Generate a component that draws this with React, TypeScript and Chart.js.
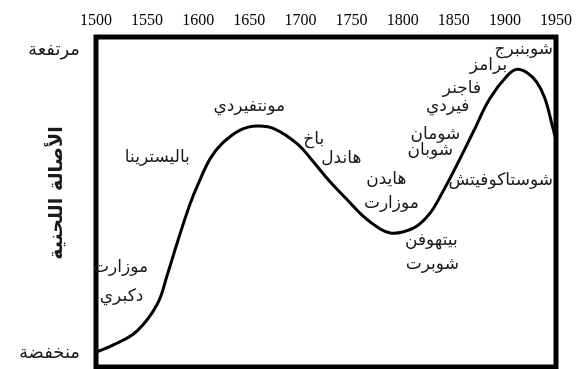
import React, { useEffect, useRef } from 'react';
import { Chart, registerables } from 'chart.js';

Chart.register(...registerables);

// Curve: melodic originality over time
const years = [1500, 1517, 1540, 1560, 1570, 1580, 1592, 1600, 1612, 1624, 1641, 1658, 1675, 1697, 1712, 1729, 1746, 1761, 1778, 1788, 1800, 1814, 1827, 1837, 1853, 1869, 1885, 1902, 1912, 1922, 1931, 1939, 1947, 1950];
const originality = [4.5, 6.7, 10.9, 19.1, 28.2, 38.2, 49.4, 55.5, 63.3, 67.9, 71.8, 73.0, 72.1, 67.6, 62.4, 56.1, 50.6, 45.8, 41.8, 40.6, 40.9, 42.7, 46.7, 51.8, 61.2, 71.2, 81.2, 88.2, 90.2, 89.1, 86.4, 81.5, 72.4, 68.8];

// X axis ticks
const xTickYears = [1500, 1550, 1600, 1650, 1700, 1750, 1800, 1850, 1900, 1950];

// Y axis labels
const yTickValues = [4, 96];
const yTickLabels = ['منخفضة', 'مرتفعة'];
const yTitle = 'الأصالة اللحنية';

// Composer annotations
const composerNames = ['موزارت', 'دكبري', 'باليسترينا', 'مونتفيردي', 'باخ', 'هاندل', 'هايدن', 'موزارت', 'بيتهوفن', 'شوبرت', 'شوبان', 'شومان', 'فيردي', 'فاجنر', 'برامز', 'شوبنبرج', 'شوستاكوفيتش'];
const composerYears = [1524, 1525, 1560, 1650, 1713, 1740, 1784, 1789, 1828, 1829, 1827, 1832, 1844, 1858, 1884, 1947, 1947];
const composerLevels = [30.0, 21.2, 63.6, 78.8, 68.8, 63.3, 56.7, 49.4, 38.2, 30.9, 65.5, 70.3, 78.8, 84.5, 91.2, 96.1, 56.4];
const rightAligned = new Set(['شوبنبرج', 'شوستاكوفيتش']);

const overlayPlugin = {
  id: 'overlay',
  afterDatasetsDraw(chart: any) {
    const { ctx, chartArea, scales } = chart;
    ctx.save();
    // frame
    ctx.lineWidth = 5;
    ctx.strokeStyle = '#000';
    ctx.strokeRect(chartArea.left, chartArea.top, chartArea.right - chartArea.left, chartArea.bottom - chartArea.top);
    // composer labels
    ctx.font = '17px "DejaVu Sans"';
    ctx.fillStyle = '#1a1a1a';
    ctx.textBaseline = 'middle';
    composerNames.forEach((name, i) => {
      const x = scales.x.getPixelForValue(composerYears[i]);
      const y = scales.y.getPixelForValue(composerLevels[i]);
      ctx.textAlign = rightAligned.has(name) ? 'right' : 'center';
      ctx.fillText(name, x, y);
    });
    ctx.restore();
  },
  afterDraw(chart: any) {
    const { ctx, chartArea } = chart;
    ctx.save();
    ctx.font = 'bold 19px "DejaVu Sans"';
    ctx.fillStyle = '#1a1a1a';
    ctx.textAlign = 'center';
    ctx.textBaseline = 'middle';
    const cy = chartArea.top + (chartArea.bottom - chartArea.top) * 0.473;
    ctx.translate(57, cy);
    ctx.rotate(-Math.PI / 2);
    ctx.fillText(yTitle, 0, 0);
    ctx.restore();
  },
};

export default function App() {
  const canvasRef = useRef<HTMLCanvasElement | null>(null);

  useEffect(() => {
    if (!canvasRef.current) return;
    const chart = new Chart(canvasRef.current, {
      type: 'line',
      data: {
        datasets: [
          {
            data: years.map((y, i) => ({ x: y, y: originality[i] })),
            borderColor: '#000',
            borderWidth: 3,
            pointRadius: 0,
            fill: false,
            tension: 0.4,
          },
        ],
      },
      options: {
        animation: false,
        responsive: false,
        devicePixelRatio: 1,
        layout: { padding: { top: 0, left: 0, right: 23, bottom: 2 } },
        plugins: { legend: { display: false }, tooltip: { enabled: false } },
        scales: {
          x: {
            type: 'linear',
            position: 'top',
            min: 1500,
            max: 1950,
            afterBuildTicks: (scale: any) => {
              scale.ticks = xTickYears.map((v) => ({ value: v }));
            },
            afterFit: (scale: any) => {
              scale.height = 37;
              scale.paddingLeft = 0;
              scale.paddingRight = 0;
            },
            ticks: {
              autoSkip: false,
              maxRotation: 0,
              padding: 7,
              color: '#000',
              font: { family: '"Liberation Serif", "Times New Roman", serif', size: 16 },
              callback: (v: any) => String(v),
            },
            grid: { display: false, drawTicks: false },
            border: { display: false },
          },
          y: {
            type: 'linear',
            position: 'left',
            min: 0,
            max: 100,
            afterBuildTicks: (scale: any) => {
              scale.ticks = yTickValues.map((v) => ({ value: v }));
            },
            afterFit: (scale: any) => {
              scale.width = 96;
              scale.paddingTop = 0;
              scale.paddingBottom = 0;
            },
            ticks: {
              autoSkip: false,
              padding: 16,
              color: '#1a1a1a',
              font: { family: '"DejaVu Sans", sans-serif', size: 18 },
              callback: (v: any) => {
                const idx = yTickValues.indexOf(Number(v));
                return idx >= 0 ? yTickLabels[idx] : '';
              },
            },
            grid: { display: false, drawTicks: false },
            border: { display: false },
          },
        },
      },
      plugins: [overlayPlugin],
    } as any);
    return () => chart.destroy();
  }, []);

  return (
    <div style={{ position: 'fixed', left: 0, top: 0, width: 579, height: 369, background: '#fff' }}>
      <canvas ref={canvasRef} width={579} height={369} style={{ display: 'block' }} />
    </div>
  );
}
